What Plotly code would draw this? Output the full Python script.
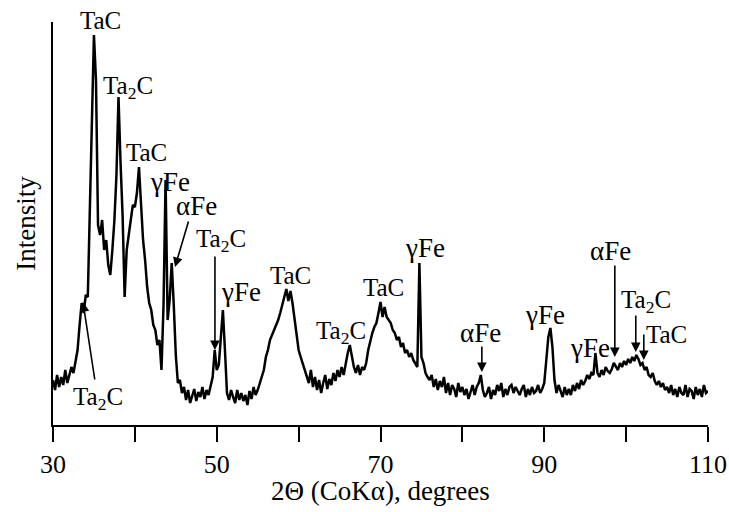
import numpy as np
import plotly.graph_objects as go

# ---- data ----
theta_start = 30.0
theta_step = 0.25
intensity = [
    45, 35, 50, 38,   # 30
    48, 40, 55, 42,   # 31
    50, 58, 52, 62,   # 32
    75, 100, 122, 112,  # 33
    130, 128, 210, 305,  # 34
    390, 345, 200, 190,  # 35
    205, 175, 185, 160,  # 36
    150, 175, 205, 250,  # 37
    328, 262, 210, 128,  # 38
    175, 190, 205, 220,  # 39
    218, 232, 258, 215,  # 40
    185, 165, 138, 122,  # 41
    115, 100, 95, 80,    # 42
    85, 55, 120, 245,    # 43
    105, 125, 162, 120,  # 44
    70, 42, 45, 32,      # 45
    38, 25, 35, 22,      # 46
    30, 36, 24, 33,      # 47
    28, 38, 26, 35,      # 48
    30, 40, 48, 75,      # 49
    55, 60, 85, 115,     # 50
    75, 32, 25, 35,      # 51
    28, 22, 35, 25,      # 52
    32, 24, 30, 20,      # 53
    34, 26, 38, 30,      # 54
    35, 42, 48, 55,      # 55
    68, 75, 85, 90,      # 56
    95, 100, 105, 112,   # 57
    120, 130, 136, 124,  # 58
    134, 122, 105, 88,   # 59
    75, 68, 62, 55,      # 60
    50, 42, 55, 38,      # 61
    48, 35, 45, 32,      # 62
    42, 50, 36, 46,      # 63
    40, 52, 44, 55,      # 64
    48, 58, 50, 62,      # 65
    72, 80, 70, 58,      # 66
    52, 60, 50, 58,      # 67
    55, 62, 75, 85,      # 68
    92, 98, 102, 112,    # 69
    123, 108, 118, 108,  # 70
    105, 102, 95, 92,    # 71
    85, 88, 78, 82,      # 72
    72, 75, 68, 72,      # 73
    65, 62, 58, 162,     # 74
    68, 62, 52, 48,      # 75
    45, 50, 38, 46,      # 76
    35, 44, 38, 48,      # 77
    32, 42, 30, 40,      # 78
    36, 28, 42, 33,      # 79
    38, 30, 36, 26,      # 80
    34, 40, 30, 38,      # 81
    42, 50, 35, 28,      # 82
    32, 38, 26, 35,      # 83
    30, 40, 34, 42,      # 84
    28, 36, 30, 38,      # 85
    40, 32, 38, 34,      # 86
    30, 36, 40, 28,      # 87
    36, 30, 38, 32,      # 88
    34, 40, 32, 36,      # 89
    42, 65, 88, 97,      # 90
    78, 45, 32, 40,      # 91
    34, 28, 38, 30,      # 92
    36, 30, 40, 34,      # 93
    42, 36, 45, 40,      # 94
    44, 50, 46, 52,      # 95
    50, 72, 52, 48,      # 96
    55, 50, 58, 54,      # 97
    52, 56, 62, 58,      # 98
    55, 62, 58, 64,      # 99
    60, 66, 62, 68,      # 100
    64, 70, 66, 60,      # 101
    62, 55, 58, 50,      # 102
    48, 52, 44, 40,      # 103
    44, 38, 42, 35,      # 104
    38, 32, 40, 30,      # 105
    36, 28, 38, 32,      # 106
    30, 40, 28, 36,      # 107
    34, 26, 38, 30,      # 108
    36, 28, 40, 32,      # 109
    34,                  # 110
]
two_theta = np.round(theta_start + theta_step * np.arange(len(intensity)), 2)

major_ticks = [30, 50, 70, 90, 110]
major_labels = ["30", "50", "70", "90", "110"]
x_title = "2Θ (CoKα), degrees"
y_title = "Intensity"

# phase labels: text, x (deg), y (intensity)
label_text = ["TaC", "Ta<sub>2</sub>C", "TaC", "γFe", "αFe", "Ta<sub>2</sub>C", "γFe",
              "TaC", "Ta<sub>2</sub>C", "TaC", "γFe", "αFe", "γFe", "γFe", "αFe",
              "Ta<sub>2</sub>C", "TaC", "Ta<sub>2</sub>C"]
label_x = [35.86, 39.16, 41.36, 44.29, 47.58, 50.5, 52.95, 59.06, 65.16, 70.42,
           75.42, 82.26, 90.07, 95.57, 98.13, 102.4, 104.97, 35.5]
label_y = [395, 338, 273, 243, 219, 185, 133, 150, 93, 138, 177, 92, 110, 77, 174,
           124, 91, 27]
label_shift = [10, 0, 0, 0, 0, 0, 0, 0, 0, 0, 0, 0, 0, 0, 0, 0, 0, 0]

# arrows: tail (x, y) -> tip (x, y)
arrow_tail_x = [46.6, 49.78, 82.38, 98.62, 101.18, 102.16, 35.13]
arrow_tail_y = [205, 170, 80, 161, 111, 92, 44]
arrow_tip_x = [44.9, 49.78, 82.38, 98.62, 101.18, 102.16, 33.66]
arrow_tip_y = [158, 75, 53, 68, 73, 65, 123]

FONT = "Liberation Serif"

fig = go.Figure()
fig.add_trace(go.Scatter(x=two_theta, y=intensity, mode="lines",
                         line=dict(color="black", width=2.5), showlegend=False,
                         hoverinfo="skip"))

annotations = []
for t, x, y, s in zip(label_text, label_x, label_y, label_shift):
    size = 27 if "Fe" in t else 25
    annotations.append(dict(x=x, y=y, xref="x", yref="y", text=t, showarrow=False,
                            yshift=s,
                            font=dict(family=FONT, size=size, color="black"),
                            xanchor="center", yanchor="middle"))
for tx, ty, hx, hy in zip(arrow_tail_x, arrow_tail_y, arrow_tip_x, arrow_tip_y):
    annotations.append(dict(x=hx, y=hy, xref="x", yref="y", ax=tx, ay=ty,
                            axref="x", ayref="y", text="", showarrow=True,
                            arrowhead=2, arrowsize=1.2, arrowwidth=1.6,
                            arrowcolor="black", standoff=0, startstandoff=0))
# x-axis title placed below the tick labels
annotations.append(dict(x=0.5, y=0, xref="paper", yref="paper", text=x_title,
                        showarrow=False, xanchor="center", yanchor="middle",
                        yshift=-66, font=dict(family=FONT, size=27, color="black")))

fig.update_layout(
    width=729, height=512,
    margin=dict(l=53, r=21, t=22, b=87),
    paper_bgcolor="white", plot_bgcolor="white",
    font=dict(family=FONT, size=27, color="black"),
    annotations=annotations,
    xaxis=dict(range=[30, 110], tickmode="array", tickvals=major_ticks,
               ticktext=major_labels, ticks="outside", ticklen=15, tickwidth=1.5,
               tickcolor="black", showline=True, linecolor="black", linewidth=1.5,
               showgrid=False, zeroline=False, ticklabelstandoff=0,
               automargin=False,
               minor=dict(dtick=10, tick0=30, ticks="outside", ticklen=15,
                          tickwidth=1.5, tickcolor="black", showgrid=False),
               tickfont=dict(family=FONT, size=26, color="black")),
    yaxis=dict(range=[0, 403], showticklabels=False, ticks="", showline=True,
               linecolor="black", linewidth=1.5, showgrid=False, zeroline=False,
               automargin=False,
               title=dict(text=y_title, standoff=8,
                          font=dict(family=FONT, size=27, color="black"))),
)

fig.write_html("out.html")
